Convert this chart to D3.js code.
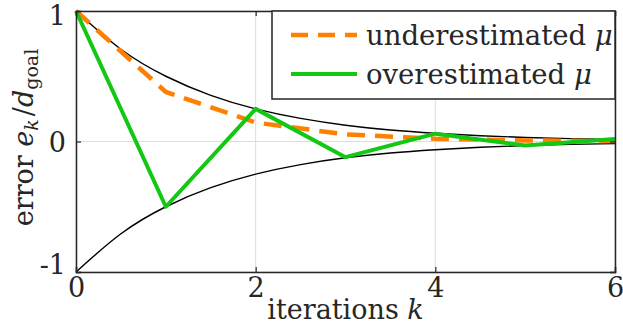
<!DOCTYPE html>
<html>
<head>
<meta charset="utf-8">
<script src="https://cdn.jsdelivr.net/npm/d3@7"></script>
<style>
  body { margin: 0; background: #fff; }
  svg text { font-family: "DejaVu Serif", serif; fill: #262626; }
</style>
</head>
<body>
<script>
// data
const iterations = [0, 1, 2, 3, 4, 5, 6];
const underestimated = [1, 0.38, 0.145, 0.055, 0.021, 0.008, 0.003];
const overestimated = [1, -0.5, 0.25, -0.12, 0.06, -0.03, 0.02];
// envelope (black curves), sampled every half step
const envK = [0, 0.5, 1, 1.5, 2, 2.5, 3, 3.5, 4, 4.5, 5, 5.5, 6];
const envUpper = [1, 0.707, 0.5, 0.354, 0.25, 0.177, 0.125, 0.088, 0.063, 0.044, 0.031, 0.022, 0.016];
const envLower = envUpper.map(v => -v);
const xTicks = [0, 2, 4, 6];
const yTicks = [-1, 0, 1];

const w = 623;
const h = 326;
const pLeft = 76, pRight = 615, pTop = 11, pBottom = 272;
const FONT = '"DejaVu Serif", serif';

const svg = d3.select('body')
	.append('svg')
	.attr('width', w)
	.attr('height', h);

const xScale = d3.scaleLinear().domain([0, 6]).range([pLeft, pRight]);
const yScale = d3.scaleLinear().domain([-1, 1]).range([pBottom, pTop]);

// grid
svg.append('g')
	.selectAll('line')
	.data(xTicks)
	.enter()
	.append('line')
	.attr('x1', d => xScale(d)).attr('x2', d => xScale(d))
	.attr('y1', pTop).attr('y2', pBottom)
	.attr('stroke', '#dcdcdc').attr('stroke-width', 1);
svg.append('g')
	.selectAll('line')
	.data(yTicks)
	.enter()
	.append('line')
	.attr('x1', pLeft).attr('x2', pRight)
	.attr('y1', d => yScale(d)).attr('y2', d => yScale(d))
	.attr('stroke', '#dcdcdc').attr('stroke-width', 1);

// envelope curves
const envLine = d3.line()
	.x((d, i) => xScale(envK[i]))
	.y(d => yScale(d))
	.curve(d3.curveNatural);

[envUpper, envLower].forEach(arr => {
	svg.append('path')
		.attr('d', envLine(arr))
		.attr('fill', 'none')
		.attr('stroke', '#000')
		.attr('stroke-width', 1.4);
});

const line = d3.line()
	.x((d, i) => xScale(iterations[i]))
	.y(d => yScale(d));

svg.append('path')
	.attr('d', line(underestimated))
	.attr('fill', 'none')
	.attr('stroke', '#ff8000')
	.attr('stroke-width', 4.5)
	.attr('stroke-dasharray', '18,10');

svg.append('path')
	.attr('d', line(overestimated))
	.attr('fill', 'none')
	.attr('stroke', '#12c812')
	.attr('stroke-width', 4)
	.attr('stroke-linejoin', 'round');

// axes (inward ticks, box)
const xAxis = d3.axisBottom(xScale).tickValues(xTicks).tickSize(-5).tickPadding(6).tickFormat(d => String(d));
const yAxis = d3.axisLeft(yScale).tickValues(yTicks).tickSize(-5).tickPadding(10).tickFormat(d => String(d));

const gx = svg.append('g')
	.attr('transform', 'translate(0,' + pBottom + ')')
	.call(xAxis);
const gy = svg.append('g')
	.attr('transform', 'translate(' + pLeft + ',0)')
	.call(yAxis);

svg.append('g').attr('transform', 'translate(0,' + pTop + ')')
	.call(d3.axisTop(xScale).tickValues(xTicks).tickSize(-5).tickFormat(''));
svg.append('g').attr('transform', 'translate(' + pRight + ',0)')
	.call(d3.axisRight(yScale).tickValues(yTicks).tickSize(-5).tickFormat(''));

svg.selectAll('.domain').attr('stroke', '#262626').attr('stroke-width', 1.5);
svg.selectAll('.tick line').attr('stroke', '#262626').attr('stroke-width', 1.2);
svg.selectAll('g').attr('font-family', FONT);
svg.selectAll('.tick text')
	.style('font-family', FONT)
	.style('font-size', '27px')
	.attr('fill', '#262626');
gx.selectAll('.tick text').attr('dy', '0.71em');
// keep the end labels inside the frame like the reference
gy.selectAll('.tick text').attr('dy', d => d === 1 ? '0.5em' : d === -1 ? '0.05em' : '0.36em');

// axis labels
const xl = svg.append('text')
	.attr('x', xScale(3))
	.attr('y', 319)
	.attr('text-anchor', 'middle')
	.style('font-size', '27px');
xl.append('tspan').text('iterations ');
xl.append('tspan').attr('font-style', 'italic').text('k');

const yl = svg.append('text')
	.attr('transform', 'translate(33,' + (yScale(0) - 4) + ') rotate(-90)')
	.attr('text-anchor', 'middle')
	.style('font-size', '27px');
yl.append('tspan').text('error ');
yl.append('tspan').attr('font-style', 'italic').text('e');
yl.append('tspan').attr('font-style', 'italic').attr('font-size', '19px').attr('baseline-shift', '-5').text('k');
yl.append('tspan').attr('dx', 3).text('/');
yl.append('tspan').attr('font-style', 'italic').text('d');
yl.append('tspan').attr('font-size', '19px').attr('baseline-shift', '-5').text('goal');

// legend
const lg = svg.append('g');
lg.append('rect')
	.attr('x', 272).attr('y', pTop)
	.attr('width', pRight - 272).attr('height', 88)
	.attr('fill', '#fff')
	.attr('stroke', '#262626')
	.attr('stroke-width', 1.5);

const legendItems = [
	{ label: 'underestimated ', color: '#ff8000', dash: '17,10', width: 4.5 },
	{ label: 'overestimated ', color: '#12c812', dash: null, width: 4 }
];
legendItems.forEach((it, i) => {
	const cy = 35 + i * 39;
	lg.append('line')
		.attr('x1', 291).attr('x2', 357)
		.attr('y1', cy).attr('y2', cy)
		.attr('stroke', it.color)
		.attr('stroke-width', it.width)
		.attr('stroke-dasharray', it.dash);
	const t = lg.append('text')
		.attr('x', 366)
		.attr('y', cy + 10)
		.style('font-size', '27.5px');
	t.append('tspan').text(it.label);
	t.append('tspan').attr('font-style', 'italic').text('μ');
});
</script>
</body>
</html>
